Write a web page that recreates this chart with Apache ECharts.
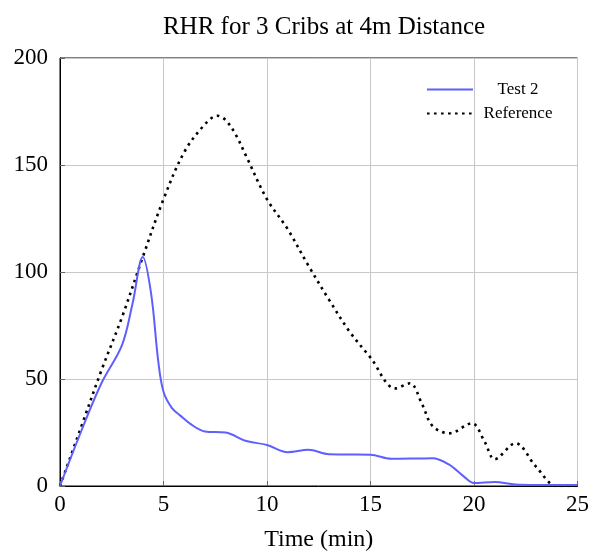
<!DOCTYPE html>
<html>
<head>
<meta charset="utf-8">
<script src="https://cdn.jsdelivr.net/npm/echarts@6/dist/echarts.min.js"></script>
<style>
  html, body { margin: 0; padding: 0; background: #fff; }
  #chart { width: 592px; height: 557px; }
</style>
</head>
<body>
<div id="chart"></div>
<script>
// Test 2 (blue)
let testTime = [0, 1, 2, 3, 3.5, 4, 4.4, 4.75, 5, 5.4, 5.8, 6.3, 7, 8, 9, 10, 11, 12, 13, 14, 15, 16, 17, 18, 18.8, 19.5, 20, 21, 22, 23, 24, 25];
let testHRR = [0, 25, 48, 66, 85, 107, 90, 58, 44, 36.5, 33, 29, 25.5, 25, 21, 19.2, 15.8, 16.9, 14.8, 14.7, 14.6, 12.7, 12.8, 13, 10, 4.5, 1.4, 1.9, 0.7, 0.5, 0.5, 0.5];

// Reference (black dotted)
let refTime = [0, 1, 2, 3, 4, 5, 6, 7, 7.6, 8, 8.5, 9, 10, 11, 12, 13, 14, 15, 16.2, 16.9, 17.5, 18, 18.8, 19.9, 20.5, 21, 22, 23, 24, 25];
let refHRR = [0, 27, 54, 79, 107, 134, 156, 169, 173, 171, 164, 154, 134, 120, 103, 87, 72, 60, 45.6, 48, 38, 28, 24.6, 29.3, 21, 12.5, 20, 9, 0, 0];

let xTicks = [0, 5, 10, 15, 20, 25];
let yTicks = [0, 50, 100, 150, 200];

const serif = '"Liberation Serif", "DejaVu Serif", serif';

function pairs(xs, ys) {
    return xs.map((x, i) => [x, ys[i]]);
}

let options = {
    animation: false,
    title: {
        text: 'RHR for 3 Cribs at 4m Distance',
        left: 319,
        textAlign: 'center',
        top: 10,
        textStyle: { fontFamily: serif, fontSize: 25, fontWeight: 'normal', color: '#000' }
    },
    legend: {
        orient: 'vertical',
        left: 421,
        top: 76,
        itemWidth: 46,
        itemHeight: 14,
        itemGap: 7,
        itemStyle: { opacity: 0 },
        textStyle: {
            fontFamily: serif, fontSize: 17, color: '#000',
            rich: { c: { fontFamily: serif, fontSize: 17, color: '#000', width: 80, align: 'center' } }
        },
        formatter: (name) => '{c|' + name + '}',
        data: ['Test 2', 'Reference']
    },
    grid: {
        left: 60,
        right: 14,
        top: 58,
        bottom: 69,
        show: true,
        borderColor: '#000',
        borderWidth: 1
    },
    xAxis: {
        type: 'value',
        min: 0,
        max: 25,
        interval: 5,
        name: 'Time (min)',
        nameLocation: 'middle',
        nameGap: 42,
        nameTextStyle: { fontFamily: serif, fontSize: 24, color: '#000' },
        axisLine: { lineStyle: { color: '#000' } },
        axisTick: { inside: true, length: 5, lineStyle: { color: '#666' } },
        axisLabel: { fontFamily: serif, fontSize: 23, color: '#000', margin: 7,
            formatter: (v) => xTicks.includes(v) ? String(v) : '' },
        splitLine: { show: true, lineStyle: { color: '#c8c8c8' } }
    },
    yAxis: {
        type: 'value',
        min: 0,
        max: 200,
        interval: 50,
        axisLine: { lineStyle: { color: '#000' } },
        axisTick: { inside: true, length: 5, lineStyle: { color: '#666' } },
        axisLabel: { fontFamily: serif, fontSize: 23, color: '#000', margin: 12,
            formatter: (v) => yTicks.includes(v) ? String(v) : '' },
        splitLine: { show: true, lineStyle: { color: '#c8c8c8' } }
    },
    series: [
        {
            name: 'Test 2',
            type: 'line',
            symbol: 'none',
            smooth: 0.35,
            itemStyle: { color: '#5f5fff' },
            lineStyle: { color: '#5f5fff', width: 2 },
            data: pairs(testTime, testHRR),
            z: 3
        },
        {
            name: 'Reference',
            type: 'line',
            symbol: 'none',
            smooth: 0.35,
            itemStyle: { color: '#000' },
            lineStyle: { color: '#000', width: 2.6, type: [2.6, 4.4] },
            data: pairs(refTime, refHRR),
            z: 2
        }
    ]
};

let chart = echarts.init(document.getElementById('chart'));
chart.setOption(options);
</script>
</body>
</html>
